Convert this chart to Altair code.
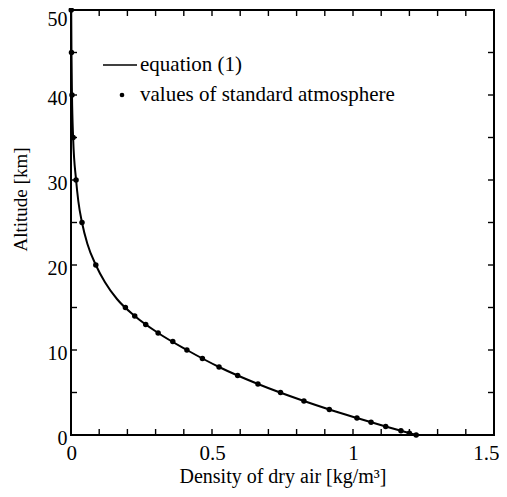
import altair as alt
import pandas as pd

# Standard atmosphere values
alt_points = [0, 0.2, 0.5, 1, 1.5, 2, 3, 4, 5, 6, 7, 8, 9, 10, 11, 12, 13, 14, 15,
              20, 25, 30, 35, 40, 45, 50]
dens_points = [1.224, 1.200, 1.170, 1.116, 1.064, 1.014, 0.916, 0.826, 0.743, 0.663,
               0.591, 0.525, 0.466, 0.411, 0.361, 0.309, 0.265, 0.226, 0.193,
               0.088, 0.039, 0.018, 0.0075, 0.0035, 0.0017, 0.0008]

# Equation (1) curve
alt_line = [0, 1, 2, 3, 4, 6, 8, 10, 12, 14, 16, 18, 20, 22.5, 25, 27.5, 30, 35, 40, 45, 50]
dens_line = [1.224, 1.116, 1.014, 0.916, 0.826, 0.663, 0.525, 0.411, 0.309, 0.226,
             0.163, 0.120, 0.088, 0.058, 0.039, 0.026, 0.018, 0.0075, 0.0035, 0.0017, 0.0008]

x_major = [0, 0.5, 1, 1.5]
x_minor = [0, 0.1, 0.2, 0.3, 0.4, 0.5, 0.6, 0.7, 0.8, 0.9, 1.0, 1.1, 1.2, 1.3, 1.4, 1.5]
y_major = [0, 10, 20, 30, 40, 50]
y_minor = [0, 5, 10, 15, 20, 25, 30, 35, 40, 45, 50]

legend_labels = ["equation (1)", "values of standard atmosphere"]

W, H = 423, 425
FONT = "Liberation Serif, Times New Roman, Times, serif"
FS = 21

points_df = pd.DataFrame({"altitude": alt_points, "density": dens_points})
line_df = pd.DataFrame({"altitude": alt_line, "density": dens_line})
xt_df = pd.DataFrame({"v": x_minor})
yt_df = pd.DataFrame({"v": y_minor})
one = pd.DataFrame({"a": [0]})

xscale = alt.Scale(domain=[0, 1.5], nice=False, zero=False)
yscale = alt.Scale(domain=[0, 50], nice=False, zero=False)

xaxis = alt.Axis(values=x_major, format=".1~f", tickSize=0, domain=False, grid=False,
                 labelFont=FONT, labelFontSize=FS, labelPadding=18, labelColor="black",
                 labelBaseline="middle", labelFlush=True, labelFlushOffset=5,
                 titleFont=FONT, titleFontSize=20, titleFontWeight="normal",
                 titleColor="black", titleBaseline="middle", titleY=41)
yaxis = alt.Axis(values=y_major, format="d", tickSize=0, domain=False, grid=False,
                 labelFont=FONT, labelFontSize=20, labelPadding=4, labelColor="black",
                 labelBaseline="middle",
                 labelOffset={"condition": {"test": "datum.value == 50", "value": 9},
                              "value": 3},
                 labelFlush=False,
                 titleFont=FONT, titleFontSize=19, titleFontWeight="normal",
                 titleColor="black", titleBaseline="middle", titleX=-51, titleY=189)

curve = alt.Chart(line_df).mark_line(color="black", strokeWidth=2,
                                     interpolate="monotone").encode(
    x=alt.X("density:Q", scale=xscale, axis=xaxis,
            title="Density of dry air [kg/m³]"),
    y=alt.Y("altitude:Q", scale=yscale, axis=yaxis, title="Altitude [km]"),
)

dots = alt.Chart(points_df).mark_circle(color="black", size=30, opacity=1).encode(
    x=alt.X("density:Q", scale=xscale),
    y=alt.Y("altitude:Q", scale=yscale),
)

tick_style = dict(color="black", strokeWidth=1.4)
bottom_ticks = alt.Chart(xt_df).mark_rule(**tick_style).encode(
    x=alt.X("v:Q", scale=xscale), y=alt.value(H), y2=alt.value(H - 6))
top_ticks = alt.Chart(xt_df).mark_rule(**tick_style).encode(
    x=alt.X("v:Q", scale=xscale), y=alt.value(0), y2=alt.value(6))
left_ticks = alt.Chart(yt_df).mark_rule(**tick_style).encode(
    y=alt.Y("v:Q", scale=yscale), x=alt.value(0), x2=alt.value(6))
right_ticks = alt.Chart(yt_df).mark_rule(**tick_style).encode(
    y=alt.Y("v:Q", scale=yscale), x=alt.value(W), x2=alt.value(W - 6))

leg_line = alt.Chart(one).mark_rule(color="black", strokeWidth=1.5).encode(
    x=alt.value(32), x2=alt.value(66), y=alt.value(55))
leg_dot = alt.Chart(one).mark_circle(color="black", size=22, opacity=1).encode(
    x=alt.value(51), y=alt.value(85))
leg_text1 = alt.Chart(one).mark_text(align="left", baseline="middle", font=FONT,
                                     fontSize=FS, color="black").encode(
    x=alt.value(69), y=alt.value(55), text=alt.value(legend_labels[0]))
leg_text2 = alt.Chart(one).mark_text(align="left", baseline="middle", font=FONT,
                                     fontSize=FS, color="black").encode(
    x=alt.value(69), y=alt.value(85), text=alt.value(legend_labels[1]))

chart = alt.layer(
    curve, dots, bottom_ticks, top_ticks, left_ticks, right_ticks,
    leg_line, leg_dot, leg_text1, leg_text2,
).properties(
    width=W, height=H,
    padding={"left": 63, "top": 2, "right": 5, "bottom": 54},
    autosize=alt.AutoSizeParams(type="none"),
    background="white",
).configure_view(stroke="black", strokeWidth=2)

chart.save("out.html", embed_options={"renderer": "svg", "actions": False})
